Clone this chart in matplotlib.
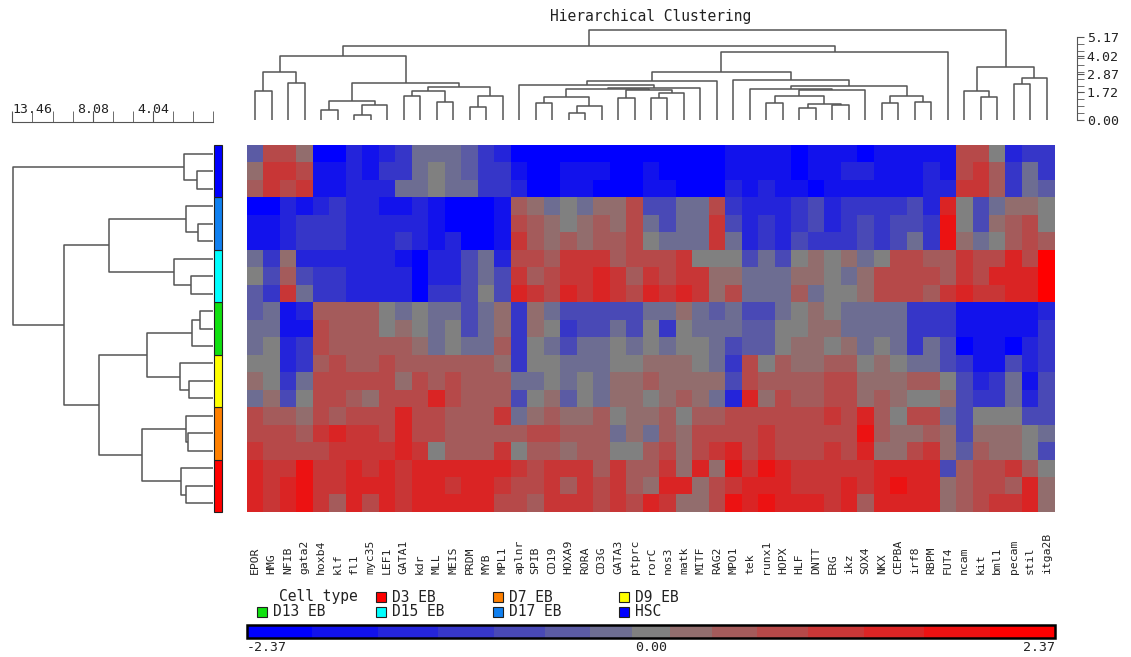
import numpy as np
import matplotlib.pyplot as plt
from matplotlib.colors import ListedColormap, BoundaryNorm
from matplotlib.patches import Rectangle
import matplotlib.cm as cm

W, H = 1131, 657
plt.rcParams['font.family'] = 'DejaVu Sans Mono'

genes = ['EPOR', 'HMG', 'NFIB', 'gata2', 'hoxb4', 'klf', 'fl1', 'myc35', 'LEF1', 'GATA1',
         'kdr', 'MLL', 'MEIS', 'PRDM', 'MYB', 'MPL1', 'aplnr', 'SPIB', 'CD19', 'HOXA9',
         'RORA', 'CD3G', 'GATA3', 'ptprc', 'rorC', 'nos3', 'matk', 'MITF', 'RAG2', 'MPO1',
         'tek', 'runx1', 'HOPX', 'HLF', 'DNTT', 'ERG', 'ikz', 'SOX4', 'NKX', 'CEPBA',
         'irf8', 'RBPM', 'FUT4', 'ncam', 'kit', 'bml1', 'pecam', 'stil', 'itga2B']

# sample rows, top to bottom (3 replicates per cell type)
row_types = ['HSC'] * 3 + ['D17 EB'] * 3 + ['D15 EB'] * 3 + ['D13 EB'] * 3 + \
            ['D9 EB'] * 3 + ['D7 EB'] * 3 + ['D3 EB'] * 3
type_order = ['D3 EB', 'D7 EB', 'D9 EB', 'D13 EB', 'D15 EB', 'D17 EB', 'HSC']
type_colors = ['#ff0000', '#ff8000', '#ffff00', '#10e010', '#00ffff', '#1080f0', '#0000ff']

# colour scale steps of the legend bar
bounds = [-2.37, -1.99, -1.60, -1.25, -0.92, -0.62, -0.36, -0.11,
          0.11, 0.36, 0.62, 0.92, 1.25, 1.60, 1.99, 2.37]

# colour step read per cell (-7 = full blue, 0 = grey, +7 = full red)
levels = [
    [-2, 3, 3, 1, -7, -7, -5, -6, -5, -4, -1, -1, -1, -2, -4, -5, -7, -7, -7, -7, -7, -7, -7, -7,
     -7, -7, -7, -7, -7, -6, -6, -6, -6, -7, -6, -6, -6, -7, -6, -6, -6, -6, -6, 3, 3, 0, -5, -4, -4],
    [1, 4, 4, 3, -6, -6, -5, -6, -4, -4, -1, 0, -1, -2, -4, -4, -6, -7, -7, -6, -6, -6, -7, -7,
     -6, -7, -7, -7, -7, -6, -6, -6, -6, -7, -6, -6, -5, -5, -6, -6, -6, -5, -6, 3, 4, 2, -4, -1, -4],
    [2, 4, 3, 4, -6, -6, -5, -5, -5, -1, -1, 0, -1, -1, -4, -4, -5, -7, -7, -6, -6, -7, -7, -7,
     -6, -6, -7, -7, -7, -5, -6, -5, -6, -6, -7, -6, -6, -6, -6, -6, -6, -5, -5, 4, 4, 2, -4, -1, -2],
    [-7, -7, -5, -6, -5, -4, -5, -5, -6, -6, -5, -6, -7, -7, -7, -6, 2, 1, -1, 0, -1, 1, 1, 3,
     -3, -3, -1, -1, 3, -4, -5, -5, -5, -4, -3, -5, -4, -4, -4, -4, -3, -5, 5, 0, -3, -1, 1, 1, 0],
    [-6, -6, -5, -4, -4, -4, -5, -5, -5, -5, -5, -6, -7, -7, -7, -6, 3, 2, 1, 0, 1, 2, 1, 3,
     -1, -3, -1, -1, 4, -3, -5, -4, -5, -4, -3, -5, -4, -3, -4, -3, -3, -4, 6, 0, -3, 1, 2, 3, 0],
    [-6, -6, -5, -4, -4, -4, -5, -5, -5, -4, -5, -6, -5, -7, -7, -6, 4, 2, 1, 2, 1, 2, 2, 3,
     0, -1, -1, -1, 4, -1, -5, -4, -5, -3, -4, -4, -4, -3, -4, -3, -1, -4, 6, 1, -1, 0, 2, 3, 2],
    [-1, -4, 1, -5, -5, -5, -5, -5, -5, -6, -7, -5, -5, -3, -1, -5, 3, 3, 2, 4, 4, 4, 2, 3,
     3, 3, 4, 0, 0, 0, -3, -1, -3, 0, 1, 0, 1, -1, 0, 3, 3, 2, 2, 4, 3, 3, 5, 3, 7],
    [0, -3, 2, -3, -4, -4, -5, -5, -5, -5, -7, -5, -5, -3, -1, -3, 4, 2, 3, 4, 4, 5, 4, 2,
     4, 3, 4, 4, 1, 1, -1, -1, -1, 1, 1, 0, -1, 1, 3, 3, 3, 3, 2, 4, 3, 5, 5, 5, 7],
    [-2, -4, 4, -1, -4, -4, -5, -5, -5, -5, -7, -4, -4, -3, 0, -3, 5, 4, 3, 5, 4, 5, 4, 3,
     5, 4, 5, 4, 1, 3, -1, -1, -1, 2, -1, 0, 0, 1, 3, 3, 3, 2, 4, 5, 4, 4, 5, 5, 7],
    [-2, -1, -6, -5, 2, 2, 2, 2, 0, -1, 0, -1, -1, -3, -1, 1, -4, 1, -1, -3, -3, -3, -3, -3,
     -1, -1, 1, -1, -2, -1, -3, -3, -1, 0, 1, 0, -1, -1, -1, -1, -4, -4, -4, -6, -6, -6, -6, -6, -5],
    [-1, -1, -6, -6, 3, 2, 2, 2, 0, 1, 0, -1, 0, -3, -1, 1, -4, 1, 0, -4, -3, -3, -1, -3,
     0, -4, 0, -1, -1, -1, -2, -2, 0, 0, 1, 1, -1, -1, -1, -1, -4, -4, -4, -6, -6, -6, -6, -6, -4],
    [-1, 0, -5, -4, 3, 2, 2, 2, 2, 2, 1, -1, 0, -1, -1, 2, -4, 0, -1, -3, -1, -1, 0, -1,
     0, -1, 0, 0, -1, -3, -2, -2, 0, 1, 1, 0, 1, -1, 0, -1, -4, -1, -3, -7, -6, -6, -7, -5, -4],
    [0, 0, -5, -4, 2, 3, 2, 2, 3, 2, 2, 2, 2, 2, 2, 1, -4, 0, 0, -1, -1, -1, 0, 0,
     1, 1, 1, 0, -1, -4, 3, 0, 2, 1, 1, 2, 2, 0, 1, 0, -1, -1, -3, -4, -6, -6, -3, -5, -4],
    [1, 0, -4, -1, 3, 3, 3, 3, 3, 1, 3, 2, 3, 2, 2, 2, -1, -1, 0, -1, 0, -1, 1, 1,
     2, 1, 1, 1, 1, -3, 3, 2, 2, 2, 2, 3, 3, 1, 1, 1, 2, 2, 0, -3, -5, -4, -1, -6, -3],
    [-1, 1, -3, 0, 3, 3, 2, 1, 3, 3, 3, 5, 3, 2, 2, 2, -3, 0, 1, -2, 0, -1, 1, 1,
     0, 1, 2, 1, -1, -5, 5, 1, 3, 2, 2, 3, 3, 1, 2, 1, 0, 0, 1, -3, -4, -4, -1, -5, -3],
    [3, 2, 2, 1, 3, 2, 3, 3, 3, 5, 3, 3, 2, 2, 2, 4, -1, 1, 2, 1, 1, 2, 0, 1,
     1, 2, 0, 2, 2, 3, 3, 3, 3, 3, 3, 4, 3, 5, 2, 0, 3, 3, -1, -3, 0, 0, 0, -3, -3],
    [3, 3, 3, 2, 4, 5, 4, 4, 3, 5, 3, 3, 2, 2, 2, 2, 2, 3, 3, 2, 2, 2, -1, 1,
     -1, 2, 1, 3, 3, 3, 3, 4, 3, 3, 3, 3, 3, 6, 2, 1, 1, 2, 1, -3, 1, 1, 1, 0, -1],
    [4, 3, 3, 3, 3, 4, 4, 4, 4, 5, 4, 0, 2, 2, 2, 4, 0, 2, 2, 1, 2, 2, 0, 0,
     2, 3, 1, 3, 4, 5, 3, 4, 3, 3, 3, 4, 3, 5, 1, 1, 3, 4, 1, -2, 2, 1, 1, 0, -3],
    [5, 4, 4, 6, 4, 4, 5, 4, 5, 4, 5, 5, 5, 5, 5, 5, 4, 3, 4, 4, 4, 2, 4, 2,
     2, 4, 1, 5, 1, 6, 4, 6, 5, 4, 4, 4, 4, 4, 5, 5, 5, 5, -3, 2, 3, 3, 4, 2, 0],
    [5, 4, 5, 6, 4, 4, 5, 5, 5, 4, 5, 5, 4, 5, 5, 4, 3, 3, 4, 2, 4, 3, 4, 2,
     1, 5, 5, 1, 3, 4, 5, 5, 5, 4, 4, 4, 5, 4, 5, 6, 5, 5, 1, 2, 3, 3, 2, 5, 1],
    [5, 4, 5, 6, 4, 2, 5, 3, 5, 4, 5, 5, 5, 5, 5, 3, 3, 2, 4, 4, 4, 3, 4, 3,
     5, 4, 1, 1, 3, 6, 5, 6, 5, 5, 5, 4, 5, 2, 5, 5, 5, 5, 1, 2, 3, 4, 4, 5, 1],
]

# gene tree: (left, right, merge height); ints are column indices
left_genes = (
    ((0, 1, 1.83), (2, 3, 2.33), 3.02),
    (((4, 5, 0.63), ((6, 7, 0.31), 8, 0.94), 1.21),
     (((9, 10, 1.52), (11, 12, 1.11), 1.81), ((13, 14, 0.79), 15, 1.50), 2.08),
     2.33),
    4.02)
mid_genes = (
    (((16, ((((17, 18, 1.08), ((19, 20, 0.46), 21, 0.89), 1.46),
             ((22, 23, 1.36), ((24, 25, 1.36), 26, 1.67), 1.88), 1.94), 27, 2.0), 2.19),
      28, 2.44),
     (29, ((30, (((31, 32, 1.04), ((33, 34, 0.73), (35, 36, 0.94), 1.0), 1.5), 37, 1.88), 1.96),
           ((38, 39, 1.04), (40, 41, 1.15), 1.5), 2.13), 2.5),
     2.98),
    42, 4.23)
right_genes = ((43, (44, 45, 1.46), 1.81), ((46, 47, 2.23), 48, 2.61), 3.33)
gene_tree = ((left_genes, mid_genes, 4.64), right_genes, 5.63)

# sample tree: ints are row indices
sample_tree = (
    (0, (1, 2, 1.11), 1.94),
    (((3, (4, 5, 1.04), 1.85), (6, (7, 8, 1.49), 2.63), 6.99),
     ((((9, 10, 0.87), 11, 1.45), (12, (13, 14, 1.63), 2.21), 4.46),
      ((15, (16, 17, 1.67), 1.85), (18, (19, 20, 1.83), 2.16), 4.76), 7.66),
     9.98),
    13.44)

gene_ticks = [0.0, 1.72, 2.87, 4.02, 5.17]
sample_ticks = [13.46, 8.08, 4.04]


def rect(x0, y0, x1, y1):
    return [x0 / W, 1 - y1 / H, (x1 - x0) / W, (y1 - y0) / H]


def draw_tree(ax, node, vertical):
    if isinstance(node, int):
        return node + 0.5, 0.0
    left, right, h = node
    xl, hl = draw_tree(ax, left, vertical)
    xr, hr = draw_tree(ax, right, vertical)
    pos = [xl, xl, xr, xr]
    hts = [hl, h, h, hr]
    if vertical:
        ax.plot(pos, hts, color='#555555', lw=1.1, clip_on=False, solid_capstyle='butt')
    else:
        ax.plot(hts, pos, color='#555555', lw=1.1, clip_on=False, solid_capstyle='butt')
    return (xl + xr) / 2, h


fig = plt.figure(figsize=(W / 100, H / 100), dpi=100)
txt = '#222222'

# heatmap
grid = np.array(levels)
mids = (np.array(bounds[:-1]) + np.array(bounds[1:])) / 2
mids[7] = 0.0
values = mids[grid + 7]
blue = np.array([0, 0, 255]) / 255
grey = np.array([128, 128, 128]) / 255
red = np.array([255, 0, 0]) / 255
cols = [grey + (blue - grey) * k / 7 for k in range(7, 0, -1)] + [grey] + \
       [grey + (red - grey) * k / 7 for k in range(1, 8)]
cmap = ListedColormap(cols)
norm = BoundaryNorm(bounds, cmap.N)

ax_hm = fig.add_axes(rect(247, 145, 1055, 512))
ax_hm.imshow(values, cmap=cmap, norm=norm, aspect='auto', interpolation='nearest',
             extent=(0, len(genes), len(row_types), 0))
ax_hm.set_axis_off()

# gene labels
for i, g in enumerate(genes):
    fig.text((247 + 808 * (i + 0.5) / len(genes)) / W, 1 - 574 / H, g, rotation=90,
             ha='center', va='bottom', fontsize=8.2, color=txt)

# column dendrogram
ax_top = fig.add_axes(rect(247, 20, 1055, 120))
draw_tree(ax_top, gene_tree, True)
ax_top.set_xlim(0, len(genes))
ax_top.set_ylim(0, 6.25)
ax_top.set_axis_off()

ax_sc = fig.add_axes(rect(1077, 20, 1077.01, 120))
ax_sc.set_ylim(0, 6.25)
for s in ['left', 'top', 'bottom']:
    ax_sc.spines[s].set_visible(False)
ax_sc.spines['right'].set_bounds(0, 5.17)
ax_sc.spines['right'].set_color('#555555')
ax_sc.set_xticks([])
ax_sc.yaxis.set_ticks_position('right')
ax_sc.set_yticks(gene_ticks)
ax_sc.set_yticklabels(['%.2f' % t for t in gene_ticks])
ax_sc.set_yticks(np.linspace(0, 5.17, 13), minor=True)
ax_sc.tick_params(axis='y', which='both', direction='out', length=5, color='#555555',
                  labelsize=9.5, labelcolor=txt, pad=2)

# row dendrogram
ax_left = fig.add_axes(rect(12.3, 145, 213.3, 512))
draw_tree(ax_left, sample_tree, False)
ax_left.set_xlim(13.46, 0)
ax_left.set_ylim(len(row_types), 0)
ax_left.set_axis_off()

ax_ls = fig.add_axes(rect(12.3, 121.7, 213.3, 121.71))
ax_ls.set_xlim(13.46, 0)
for s in ['left', 'top', 'right']:
    ax_ls.spines[s].set_visible(False)
ax_ls.spines['bottom'].set_color('#555555')
ax_ls.set_yticks([])
ax_ls.set_xticks(sample_ticks)
ax_ls.set_xticklabels(['%.2f' % t for t in sample_ticks])
ax_ls.set_xticks(np.linspace(0, 13.46, 11), minor=True)
ax_ls.tick_params(axis='x', which='both', direction='in', length=8, color='#555555',
                  bottom=True, top=False, labelbottom=False, labeltop=True,
                  labelsize=9.5, labelcolor=txt, pad=4)
ax_ls.get_xticklabels()[0].set_horizontalalignment('left')

# cell type strip
ax_ct = fig.add_axes(rect(213.5, 145, 222, 512))
ax_ct.set_xlim(0, 1)
ax_ct.set_ylim(len(row_types), 0)
ax_ct.set_axis_off()
for t, c in zip(type_order, type_colors):
    rows = [r for r, v in enumerate(row_types) if v == t]
    ax_ct.add_patch(Rectangle((0, min(rows)), 1, len(rows), facecolor=c,
                              edgecolor='#202020', lw=0.8, clip_on=False))

# title
fig.text(651 / W, 1 - 17 / H, 'Hierarchical Clustering', ha='center', va='center',
         fontsize=10.5, color=txt)

# legend
leg_pos = [(375.5, 597), (493, 597), (619, 597), (257, 611.5), (375.5, 611.5),
           (493, 611.5), (619, 611.5)]
fig.text(279 / W, 1 - 597 / H, 'Cell type', ha='left', va='center', fontsize=10.5, color=txt)
for (x, y), t, c in zip(leg_pos, type_order, type_colors):
    fig.patches.append(Rectangle((x / W, 1 - (y + 5) / H), 10 / W, 10 / H, facecolor=c,
                                 edgecolor='#202020', lw=0.8, transform=fig.transFigure))
    fig.text((x + 16) / W, 1 - y / H, t, ha='left', va='center', fontsize=10.5, color=txt)

# colour bar
cax = fig.add_axes(rect(247, 625, 1055, 638))
cb = fig.colorbar(cm.ScalarMappable(norm=norm, cmap=cmap), cax=cax, orientation='horizontal',
                  spacing='proportional', ticks=[])
cb.minorticks_off()
cax.tick_params(which='both', length=0)
cb.outline.set_linewidth(1.8)
for v, ha in [(-2.37, 'left'), (0.0, 'center'), (2.37, 'right')]:
    cax.text(v, -0.25, '%.2f' % v, transform=cax.get_xaxis_transform(), ha=ha, va='top',
             fontsize=9.5, color=txt)

fig.savefig('out.png', dpi=100)
